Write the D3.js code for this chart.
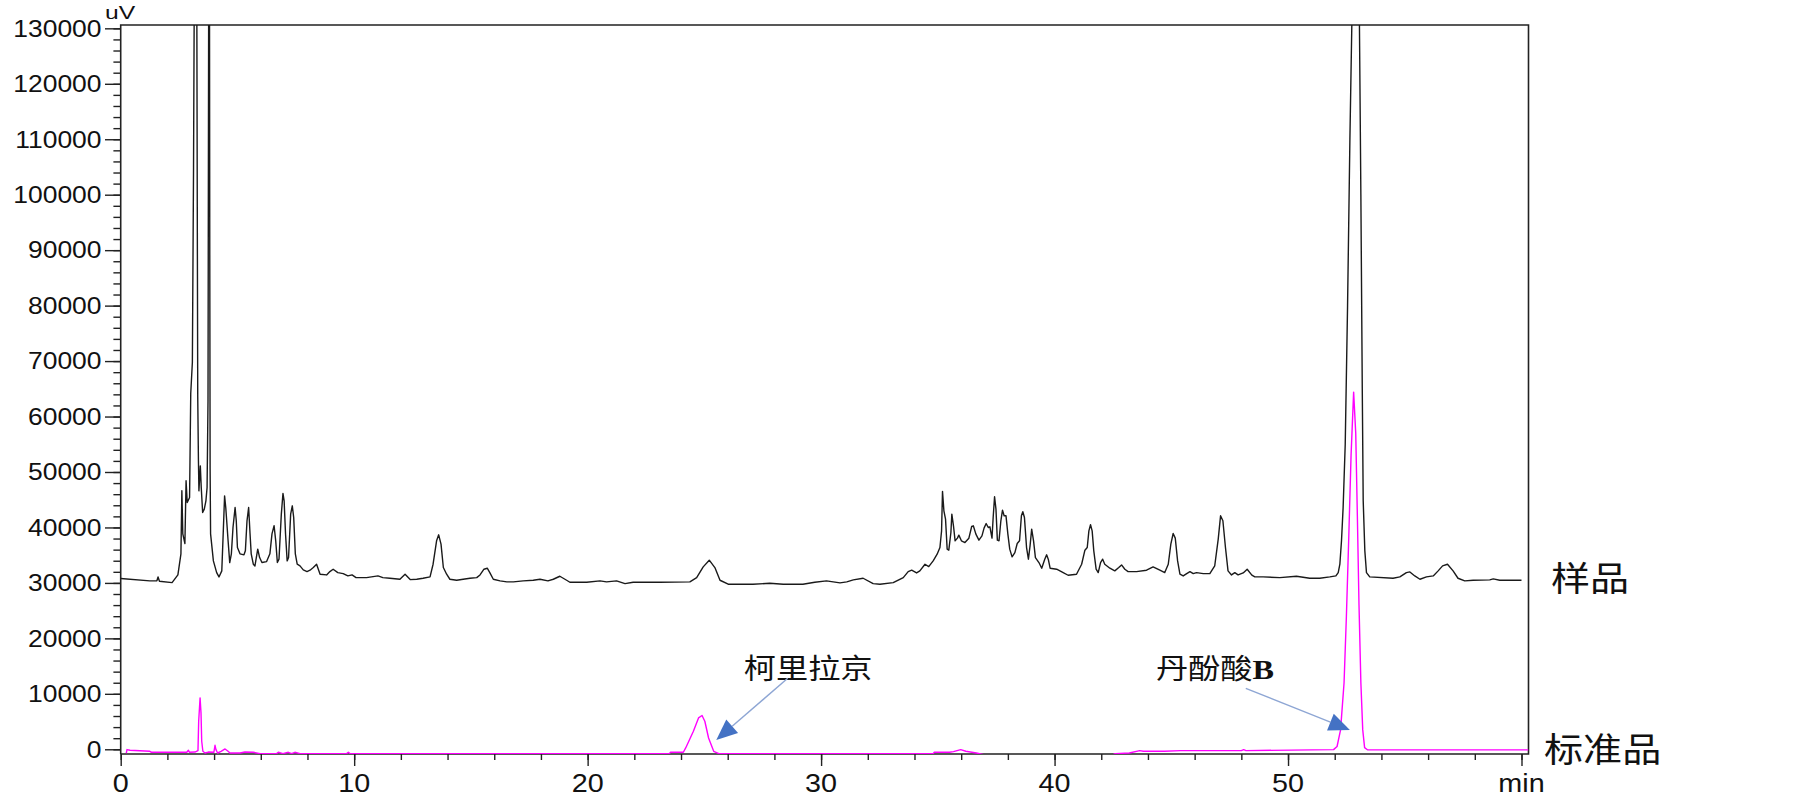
<!DOCTYPE html>
<html>
<head>
<meta charset="utf-8">
<script src="https://cdn.jsdelivr.net/npm/d3@7"></script>
<style>
  html, body { margin: 0; padding: 0; background: #fff; }
  svg { display: block; }
</style>
</head>
<body>
<svg id="chart" width="1805" height="798"></svg>
<script>
// ---------------- DATA ----------------
// Sample chromatogram (样品): retention time (min) and signal (uV)
const sampleTime = [0,1.25,1.55,1.6,1.66,2.2,2.45,2.58,2.62,2.66,2.75,2.8,2.85,2.95,3.0,3.07,3.12,3.16,3.22,3.26,3.28,3.30,3.33,3.35,3.41,3.45,3.51,3.58,3.65,3.70,3.74,3.77,3.80,3.815,3.83,3.85,3.97,4.11,4.21,4.33,4.39,4.45,4.5,4.6,4.67,4.74,4.81,4.9,4.95,5.0,5.11,5.28,5.34,5.41,5.48,5.54,5.59,5.68,5.75,5.87,5.95,6.05,6.25,6.39,6.48,6.57,6.64,6.71,6.78,6.88,6.95,7.0,7.06,7.13,7.19,7.28,7.35,7.41,7.48,7.56,7.68,7.82,7.98,8.11,8.25,8.39,8.54,8.82,8.96,9.1,9.3,9.53,9.73,9.91,10.08,10.53,11.02,11.23,11.53,11.96,12.18,12.4,12.68,12.95,13.25,13.38,13.53,13.62,13.72,13.82,13.96,14.1,14.39,14.67,14.96,15.25,15.39,15.56,15.7,15.81,15.96,16.25,16.54,16.82,17.24,17.67,17.96,18.3,18.53,18.81,19.1,19.24,19.96,20.53,20.81,21.24,21.6,21.95,23.1,24.38,24.67,24.95,25.21,25.45,25.67,26.02,27.08,27.8,28.38,29.22,29.73,30.23,30.81,31.1,31.38,31.8,32.23,32.52,33.09,33.52,33.73,33.88,34.09,34.23,34.45,34.61,34.8,34.97,35.09,35.16,35.2,35.26,35.33,35.4,35.47,35.56,35.6,35.67,35.74,35.84,35.9,36.01,36.16,36.33,36.45,36.52,36.63,36.76,36.89,36.98,37.07,37.16,37.23,37.32,37.37,37.43,37.49,37.55,37.62,37.7,37.77,37.84,37.92,38.0,38.08,38.18,38.3,38.4,38.5,38.58,38.64,38.71,38.8,38.88,38.95,39.02,39.1,39.18,39.33,39.45,39.58,39.66,39.73,39.81,40.09,40.37,40.58,40.94,41.16,41.3,41.4,41.47,41.54,41.61,41.68,41.78,41.87,41.97,42.06,42.15,42.37,42.58,42.75,42.87,43.01,43.15,43.51,43.94,44.22,44.51,44.72,44.87,44.98,45.08,45.17,45.27,45.37,45.51,45.66,45.8,45.94,46.08,46.37,46.65,46.86,47.01,47.11,47.21,47.32,47.43,47.58,47.72,47.86,48.08,48.25,48.45,48.58,48.93,49.65,50.36,50.93,51.36,51.79,52.05,52.15,52.22,52.29,52.36,52.45,52.55,52.65,52.75,52.9,53.05,53.12,53.18,53.22,53.29,53.36,53.5,54.5,54.79,55.07,55.22,55.43,55.65,55.93,56.22,56.43,56.62,56.83,57.07,57.28,57.57,57.93,58.64,58.79,59.07,60.0];
const sampleUV = [30800,30360,30400,31080,30300,30050,31440,35240,46620,38850,37100,48430,44500,45400,64150,69800,105000,145000,150000,135000,97800,63500,52000,46600,51100,47200,42700,43300,44800,47200,62900,140000,150000,90000,50600,38850,33970,31860,31080,32170,38850,45700,43600,37600,33660,35240,40000,43600,41200,36380,35240,35060,35780,41200,43600,38850,35240,33370,33070,36090,34570,33670,33850,35240,38850,40300,37590,33670,34280,42400,46130,44800,38850,33970,34570,42400,43900,41790,35240,33370,33070,32350,32040,32290,32770,33370,31570,31440,32040,32470,31860,31680,31260,31440,30950,30950,31260,30950,30840,30660,31570,30600,30660,30840,31080,33370,37590,38670,36990,32770,31570,30660,30480,30660,30840,30950,31440,32470,32650,31860,30660,30360,30180,30180,30360,30480,30660,30360,30660,31200,30480,30120,30120,30360,30180,30360,29870,30120,30120,30180,30950,32890,34100,32770,30480,29760,29760,29940,29760,29760,30120,30360,30000,30180,30540,30840,29870,29760,30050,30950,32040,32290,31800,32170,33370,32940,33970,35180,36380,39390,46500,43000,41500,36090,35900,39090,42400,40300,37590,38070,38610,37590,37280,38070,40170,40300,38800,37710,38490,39880,40710,39990,40110,38070,41790,45540,43310,37710,37590,41200,43130,42100,42100,38800,36090,34690,35470,37100,37590,42100,42830,41790,36380,34280,36680,39700,37590,34570,33670,32650,34280,35060,34280,32650,32470,31860,31380,31570,33370,35900,36380,39390,40480,39390,35780,32470,31860,33670,34280,33370,32650,32170,32770,33250,32470,32040,32040,32290,32890,32290,31860,33370,36990,38910,38070,33970,31570,31260,31680,32040,31680,31860,31680,31680,33070,37890,42100,41200,36380,32170,31440,31860,31440,31800,32470,31400,31080,31080,30950,31200,30840,30840,31080,31260,31860,33370,37590,43600,55000,80000,110000,135000,150000,135000,100000,65000,44800,35780,31860,31080,30840,31080,31860,31980,31260,30660,31080,31260,32170,33070,33370,32170,30840,30360,30480,30540,30720,30480,30480];

// Standard chromatogram (标准品)
const standardTime = [0.24,0.27,0.4,1.25,1.32,2.83,2.9,2.95,3.18,3.31,3.34,3.4,3.44,3.47,3.52,3.61,3.75,3.99,4.04,4.08,4.15,4.3,4.47,4.6,4.68,5.11,5.32,5.68,5.97,6.68,6.75,6.95,7.18,7.32,7.46,7.68,9.68,9.75,9.82,23.5,23.55,24.1,24.2,24.53,24.75,24.9,25.02,25.18,25.4,25.62,34.8,34.85,35.5,35.67,35.98,36.2,36.65,36.97,42.5,42.6,43.2,43.65,43.8,44.7,45.4,48.0,48.1,48.2,51.95,52.1,52.25,52.4,52.5,52.6,52.7,52.81,52.9,52.97,53.04,53.12,53.2,53.28,53.4,60.3];
const standardUV = [-700,-50,-180,-360,-540,-540,-180,-540,-500,-240,5060,9270,6560,1450,-360,-670,-500,-540,720,-60,-670,-360,60,-360,-670,-670,-500,-540,-780,-780,-540,-780,-540,-780,-540,-780,-780,-540,-780,-780,-540,-540,240,3250,5660,6090,5060,2040,-360,-780,-780,-540,-540,-420,-60,-360,-670,-960,-960,-780,-670,-240,-360,-360,-240,-240,-60,-240,-60,500,3500,12000,24000,38000,53000,64400,57000,42000,26000,12000,3500,300,-80,-100];

// Axis ticks
const xMajorTicks = [0, 10, 20, 30, 40, 50, 60];
const xTickLabels = ["0", "10", "20", "30", "40", "50", "min"];
const yMajorTicks = [0,10000,20000,30000,40000,50000,60000,70000,80000,90000,100000,110000,120000,130000];

// Annotations (data coordinates)
const annotNames = ["柯里拉京", "丹酚酸"];
const annotSuffix = ["", "B"];
const annotLabelT = [26.69, 44.34];
const annotLabelV = [12750, 12750];
const annotTailT = [28.57, 48.19];
const annotTailV = [12800, 11000];
const annotTipT = [25.51, 52.65];
const annotTipV = [1680, 3480];

const traceNames = ["样品", "标准品"];
const traceLabelV = [28500, -2300];

// ---------------- LAYOUT ----------------
const SX = 1.15; // horizontal text stretch of the original
const svg = d3.select("#chart");
const x = d3.scaleLinear().domain([0, 60.3]).range([120.7, 1528.5]);
const y = d3.scaleLinear().domain([-850, 130600]).range([754, 25]);
const [x0, x1] = x.range();
const [yb, yt] = y.range();

svg.append("rect").attr("width", 1805).attr("height", 798).attr("fill", "#fff");

svg.append("defs").append("clipPath").attr("id", "plotclip")
  .append("rect").attr("x", x0).attr("y", yt).attr("width", x1 - x0).attr("height", yb - yt);

// Y axis ticks
const yAxisMinor = d3.axisLeft(y).tickValues(d3.range(0, 130001, 2000)).tickSize(7.3).tickFormat("");
const yAxisMajor = d3.axisLeft(y).tickValues(yMajorTicks).tickSize(15.7).tickFormat("");
[yAxisMinor, yAxisMajor].forEach(ax => {
  const g = svg.append("g").attr("transform", `translate(${x0},0)`).call(ax);
  g.select(".domain").remove();
  g.selectAll("line").attr("stroke", "#222").attr("stroke-width", 1.4);
});
yMajorTicks.forEach(v => {
  svg.append("text")
    .attr("transform", `translate(101.5,${y(v)}) scale(${SX},1)`)
    .attr("text-anchor", "end").attr("dy", "0.36em")
    .attr("font-family", "Liberation Sans, Arial, sans-serif")
    .attr("font-size", 23).attr("fill", "#111").text(v);
});

// X axis ticks
const xAxisMinor = d3.axisBottom(x).tickValues(d3.range(0, 60.01, 2)).tickSize(6).tickFormat("");
const xAxisMajor = d3.axisBottom(x).tickValues(xMajorTicks).tickSize(12).tickFormat("");
[xAxisMinor, xAxisMajor].forEach(ax => {
  const g = svg.append("g").attr("transform", `translate(0,${yb})`).call(ax);
  g.select(".domain").remove();
  g.selectAll("line").attr("stroke", "#222").attr("stroke-width", 1.4);
});
xMajorTicks.forEach((t, i) => {
  svg.append("text")
    .attr("transform", `translate(${x(t)},792) scale(${SX},1)`)
    .attr("text-anchor", "middle")
    .attr("font-family", "Liberation Sans, Arial, sans-serif")
    .attr("font-size", 25).attr("fill", "#111").text(xTickLabels[i]);
});

// Unit label
svg.append("text")
  .attr("transform", `translate(105,18.5) scale(1.3,1)`)
  .attr("font-family", "Liberation Sans, Arial, sans-serif")
  .attr("font-size", 19).attr("fill", "#111").text("uV");

// Frame
svg.append("path")
  .attr("d", `M${x0},${yb}V${yt}H${x1}V${yb}H${x0}`)
  .attr("fill", "none").attr("stroke", "#222").attr("stroke-width", 1.6);

// Traces
const line = d3.line().x(d => x(d[0])).y(d => y(d[1]));
const plot = svg.append("g").attr("clip-path", "url(#plotclip)");
plot.append("path")
  .datum(sampleTime.map((t, i) => [t, sampleUV[i]]))
  .attr("d", line).attr("fill", "none").attr("stroke", "#1a1a1a").attr("stroke-width", 1.4)
  .attr("stroke-linejoin", "round");
plot.append("path")
  .datum(standardTime.map((t, i) => [t, standardUV[i]]))
  .attr("d", line).attr("fill", "none").attr("stroke", "#ff00ff").attr("stroke-width", 1.4)
  .attr("stroke-linejoin", "round");

// Trace labels (right side)
traceNames.forEach((name, i) => {
  svg.append("text")
    .attr("transform", `translate(${i === 0 ? 1551 : 1544},${y(traceLabelV[i])}) scale(${SX},1)`)
    .attr("font-family", "Noto Sans CJK SC, sans-serif")
    .attr("font-size", 34).attr("fill", "#111").text(name);
});

// Annotations with arrows
annotNames.forEach((name, i) => {
  const t = svg.append("text")
    .attr("transform", `translate(${x(annotLabelT[i])},${y(annotLabelV[i])}) scale(${SX},1)`)
    .attr("font-family", "Noto Sans CJK SC, sans-serif")
    .attr("font-size", 28).attr("fill", "#111");
  t.append("tspan").text(name);
  if (annotSuffix[i]) {
    t.append("tspan").attr("font-family", "Liberation Serif, Times New Roman, serif")
      .attr("font-weight", "bold").text(annotSuffix[i]);
  }
  const ax0 = x(annotTailT[i]), ay0 = y(annotTailV[i]);
  const ax1 = x(annotTipT[i]), ay1 = y(annotTipV[i]);
  const dx = ax1 - ax0, dy = ay1 - ay0, L = Math.hypot(dx, dy);
  const ux = dx / L, uy = dy / L;
  const headL = 21, headW = 9;
  const bx = ax1 - ux * headL, by = ay1 - uy * headL;
  svg.append("line").attr("x1", ax0).attr("y1", ay0).attr("x2", bx).attr("y2", by)
    .attr("stroke", "#8ea6d4").attr("stroke-width", 1.4);
  svg.append("path")
    .attr("d", `M${ax1},${ay1}L${bx - uy * headW},${by + ux * headW}L${bx + uy * headW},${by - ux * headW}Z`)
    .attr("fill", "#4472c4");
});
</script>
</body>
</html>
